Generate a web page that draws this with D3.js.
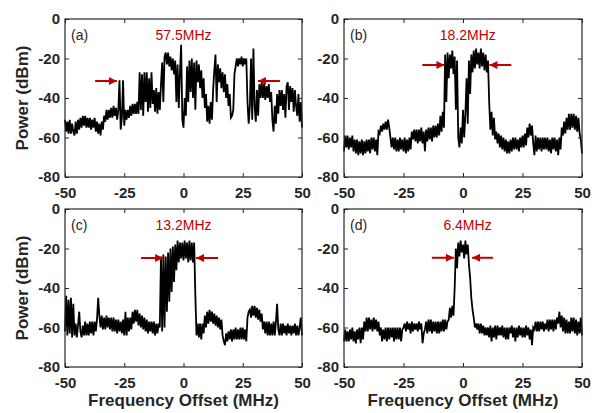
<!DOCTYPE html>
<html><head><meta charset="utf-8">
<script src="https://cdn.jsdelivr.net/npm/d3@7/dist/d3.min.js"></script>
<style>body{margin:0;background:#fff}</style>
</head><body>
<svg id="chart" width="602" height="413"></svg>
<script>
// ---- data ----
const freqStart = -50, freqStep = 0.5;            // MHz grid of the traces
const xTicks = [-50, -25, 0, 25, 50];
const yTicks = [0, -20, -40, -60, -80];
const panelLabels = ["(a)", "(b)", "(c)", "(d)"];
const bandwidthLabels = ["57.5MHz", "18.2MHz", "13.2MHz", "6.4MHz"];
const bandwidthLabelCenters = [0, 2, 0, 1.9];      // MHz
const arrowLevels = [-31.4, -23.3, -24.8, -24.7];  // dBm
const arrowLeft = [[-37.3, -28.1], [-17.1, -7.8], [-17.9, -8.6], [-13.1, -3.8]];
const arrowRight = [[40.7, 31.4], [20.3, 11.1], [14.6, 5.3], [12.6, 3.8]];

const powerA = [
 -51,-57,-52,-58,-51,-58,-53,-57,-59,-52,
 -58,-51,-56,-50,-55,-49,-54,-49,-55,-50,
 -55,-50,-56,-51,-55,-50,-57,-52,-58,-53,
 -59,-52,-56,-49,-52,-46,-51,-46,-50,-45,
 -50,-44,-49,-45,-51,-46,-31,-56,-50,-31,
 -54,-46,-51,-46,-50,-44,-49,-43,-48,-43,
 -48,-42,-48,-27,-46,-28,-49,-27,-42,-27,
 -47,-30,-45,-27,-43,-36,-47,-35,-48,-37,
 -46,-33,-22,-42,-19,-17,-23,-17,-24,-19,
 -26,-20,-28,-21,-42,-23,-45,-27,-13,-51,
 -55,-40,-49,-24,-42,-21,-37,-20,-40,-22,
 -46,-21,-32,-23,-35,-26,-40,-30,-45,-38,
 -52,-44,-53,-42,-51,-36,-26,-18,-42,-23,
 -32,-25,-35,-27,-37,-28,-40,-33,-44,-38,
 -50,-49,-46,-28,-24,-20,-24,-20,-23,-19,
 -24,-20,-23,-20,-42,-53,-44,-20,-51,-15,
 -44,-52,-36,-49,-33,-40,-32,-40,-33,-41,
 -34,-40,-33,-42,-37,-51,-57,-44,-53,-38,
 -48,-36,-44,-36,-46,-38,-50,-34,-32,-46,
 -34,-42,-35,-47,-36,-44,-49,-38,-52,-42,
 -55];
const powerB = [
 -67,-59,-65,-59,-66,-60,-65,-59,-67,-61,
 -68,-61,-69,-62,-68,-61,-69,-62,-68,-61,
 -67,-61,-68,-60,-66,-60,-67,-61,-69,-57,
 -58,-54,-57,-53,-56,-52,-56,-51,-55,-60,
 -65,-60,-66,-60,-67,-61,-67,-60,-66,-61,
 -67,-60,-68,-61,-67,-60,-66,-57,-61,-56,
 -62,-56,-63,-56,-62,-55,-63,-57,-67,-56,
 -62,-55,-61,-55,-62,-54,-60,-54,-60,-53,
 -59,-49,-57,-47,-55,-18,-42,-17,-30,-18,
 -25,-16,-28,-19,-46,-21,-60,-65,-55,-63,
 -46,-60,-48,-30,-53,-21,-38,-18,-27,-16,
 -25,-15,-23,-17,-25,-15,-24,-17,-26,-18,
 -27,-21,-42,-56,-47,-59,-50,-61,-57,-63,
 -58,-65,-59,-66,-60,-67,-61,-68,-62,-68,
 -61,-67,-60,-66,-60,-66,-61,-67,-60,-65,
 -59,-65,-58,-64,-55,-60,-53,-59,-54,-63,
 -69,-59,-67,-60,-66,-60,-67,-60,-66,-60,
 -66,-60,-67,-61,-68,-60,-66,-60,-67,-61,
 -69,-60,-66,-55,-59,-52,-58,-50,-56,-48,
 -56,-48,-55,-48,-56,-49,-57,-50,-58,-61,
 -68];
const powerC = [
 -62,-44,-64,-46,-63,-45,-65,-48,-64,-58,
 -65,-59,-52,-62,-65,-59,-64,-57,-64,-58,
 -64,-57,-63,-57,-64,-57,-62,-56,-45,-54,
 -60,-54,-61,-55,-61,-54,-60,-55,-61,-55,
 -62,-55,-62,-56,-63,-56,-62,-57,-63,-56,
 -64,-52,-64,-55,-62,-55,-61,-52,-58,-51,
 -57,-51,-59,-53,-60,-54,-61,-55,-62,-56,
 -63,-57,-62,-57,-63,-57,-64,-58,-63,-58,
 -60,-24,-62,-23,-60,-24,-52,-22,-47,-20,
 -42,-19,-37,-18,-31,-16,-27,-17,-25,-17,
 -26,-16,-25,-17,-27,-16,-26,-17,-27,-17,
 -44,-64,-58,-65,-58,-66,-58,-63,-54,-60,
 -52,-58,-51,-57,-52,-58,-53,-59,-54,-60,
 -55,-61,-56,-64,-67,-69,-63,-67,-62,-66,
 -61,-67,-61,-66,-60,-66,-61,-66,-60,-66,
 -60,-66,-61,-67,-55,-52,-51,-55,-49,-54,
 -49,-55,-50,-56,-51,-57,-53,-61,-57,-63,
 -57,-64,-57,-64,-58,-64,-57,-64,-57,-48,
 -61,-64,-58,-64,-58,-63,-59,-64,-58,-63,
 -59,-64,-59,-63,-58,-64,-59,-64,-60,-55,
 -64];
const powerD = [
 -67,-61,-67,-62,-67,-61,-66,-60,-67,-62,
 -68,-61,-66,-60,-68,-60,-66,-57,-62,-55,
 -62,-55,-61,-56,-62,-55,-61,-56,-62,-57,
 -64,-60,-67,-61,-66,-60,-67,-60,-66,-60,
 -65,-60,-67,-60,-66,-60,-66,-60,-67,-61,
 -60,-58,-62,-57,-61,-58,-63,-57,-62,-58,
 -61,-58,-62,-57,-61,-58,-68,-63,-61,-57,
 -63,-56,-62,-56,-63,-57,-62,-57,-63,-57,
 -63,-57,-62,-56,-62,-56,-61,-57,-56,-50,
 -55,-49,-54,-40,-20,-30,-17,-24,-16,-22,
 -18,-25,-16,-23,-18,-28,-35,-45,-51,-55,
 -60,-58,-61,-58,-63,-58,-63,-59,-64,-60,
 -64,-60,-65,-59,-67,-60,-65,-59,-66,-59,
 -64,-60,-64,-59,-65,-60,-66,-60,-66,-60,
 -63,-59,-65,-60,-67,-60,-65,-59,-64,-60,
 -65,-60,-65,-59,-64,-60,-66,-61,-69,-60,
 -61,-57,-62,-57,-62,-57,-61,-57,-62,-58,
 -61,-56,-62,-56,-61,-56,-62,-56,-61,-55,
 -58,-52,-60,-54,-62,-55,-63,-56,-63,-57,
 -63,-55,-62,-55,-63,-56,-64,-57,-63,-55,
 -64];
const traces = [powerA, powerB, powerC, powerD];

// ---- layout ----
const panels = [
  {x: 65,  y: 19,  w: 237, h: 158, xTitle: false, yTitle: true},
  {x: 344, y: 19,  w: 238, h: 158, xTitle: false, yTitle: false},
  {x: 65,  y: 209, w: 237, h: 158, xTitle: true,  yTitle: true},
  {x: 344, y: 209, w: 238, h: 158, xTitle: true,  yTitle: false}
];
const FONT = "'Liberation Sans', Arial, Helvetica, sans-serif";
const AX = "#262626", RED = "#c00000";

const svg = d3.select("#chart").style("font-family", FONT);
svg.append("defs").append("marker")
  .attr("id", "arrowhead").attr("viewBox", "0 0 10 10")
  .attr("refX", 10).attr("refY", 5)
  .attr("markerUnits", "userSpaceOnUse")
  .attr("markerWidth", 9).attr("markerHeight", 8)
  .attr("orient", "auto")
  .append("path").attr("d", "M0,0L10,5L0,10Z").attr("fill", RED);

panels.forEach((p, k) => {
  const g = svg.append("g").attr("transform", `translate(${p.x},${p.y})`);
  const x = d3.scaleLinear().domain([-50, 50]).range([0, p.w]);
  const y = d3.scaleLinear().domain([-80, 0]).range([p.h, 0]);
  const fmt = d => String(d);

  // trace
  const data = traces[k].map((v, i) => [freqStart + i * freqStep, v]);
  g.append("path").datum(data)
    .attr("fill", "none").attr("stroke", "#000").attr("stroke-width", 1.8)
    .attr("stroke-linejoin", "miter")
    .attr("d", d3.line().x(d => x(d[0])).y(d => y(d[1])));

  // axes (inward ticks, MATLAB box style)
  const styleAxis = (sel, labels) => {
    sel.select(".domain").remove();
    sel.selectAll(".tick line").attr("stroke", AX).attr("stroke-width", 1);
    sel.selectAll(".tick text").attr("fill", AX).style("font-size", "15px")
      .style("font-weight", "bold").style("font-family", FONT);
    if (!labels) sel.selectAll(".tick text").remove();
  };
  g.append("g").attr("transform", `translate(0,${p.h})`)
    .call(d3.axisBottom(x).tickValues(xTicks).tickFormat(fmt).tickSize(-4).tickSizeOuter(0).tickPadding(10))
    .call(s => styleAxis(s, true));
  g.append("g")
    .call(d3.axisTop(x).tickValues(xTicks).tickSize(-4).tickSizeOuter(0))
    .call(s => styleAxis(s, false));
  g.append("g")
    .call(d3.axisLeft(y).tickValues(yTicks).tickFormat(fmt).tickSize(-4).tickSizeOuter(0).tickPadding(5))
    .call(s => styleAxis(s, true));
  g.append("g").attr("transform", `translate(${p.w},0)`)
    .call(d3.axisRight(y).tickValues(yTicks).tickSize(-4).tickSizeOuter(0))
    .call(s => styleAxis(s, false));
  g.append("rect").attr("width", p.w).attr("height", p.h)
    .attr("fill", "none").attr("stroke", AX).attr("stroke-width", 1.2);

  // annotations
  g.append("text").attr("x", 6).attr("y", 21)
    .attr("fill", AX).style("font-size", "14px").text(panelLabels[k]);
  g.append("text").attr("x", x(bandwidthLabelCenters[k])).attr("y", 21)
    .attr("text-anchor", "middle").attr("fill", RED).style("font-size", "14px")
    .text(bandwidthLabels[k]);
  [arrowLeft[k], arrowRight[k]].forEach(a => {
    g.append("line")
      .attr("x1", x(a[0])).attr("x2", x(a[1]))
      .attr("y1", y(arrowLevels[k])).attr("y2", y(arrowLevels[k]))
      .attr("stroke", RED).attr("stroke-width", 2)
      .attr("marker-end", "url(#arrowhead)");
  });

  // axis titles
  if (p.yTitle) {
    svg.append("text")
      .attr("transform", `translate(28,${p.y + p.h / 2}) rotate(-90)`)
      .attr("text-anchor", "middle").attr("fill", AX)
      .style("font-size", "17px").style("font-weight", "bold")
      .text("Power (dBm)");
  }
  if (p.xTitle) {
    svg.append("text")
      .attr("x", p.x + p.w / 2).attr("y", 405.5)
      .attr("text-anchor", "middle").attr("fill", AX)
      .style("font-size", "17px").style("font-weight", "bold")
      .text("Frequency Offset (MHz)");
  }
});
</script>
</body></html>
